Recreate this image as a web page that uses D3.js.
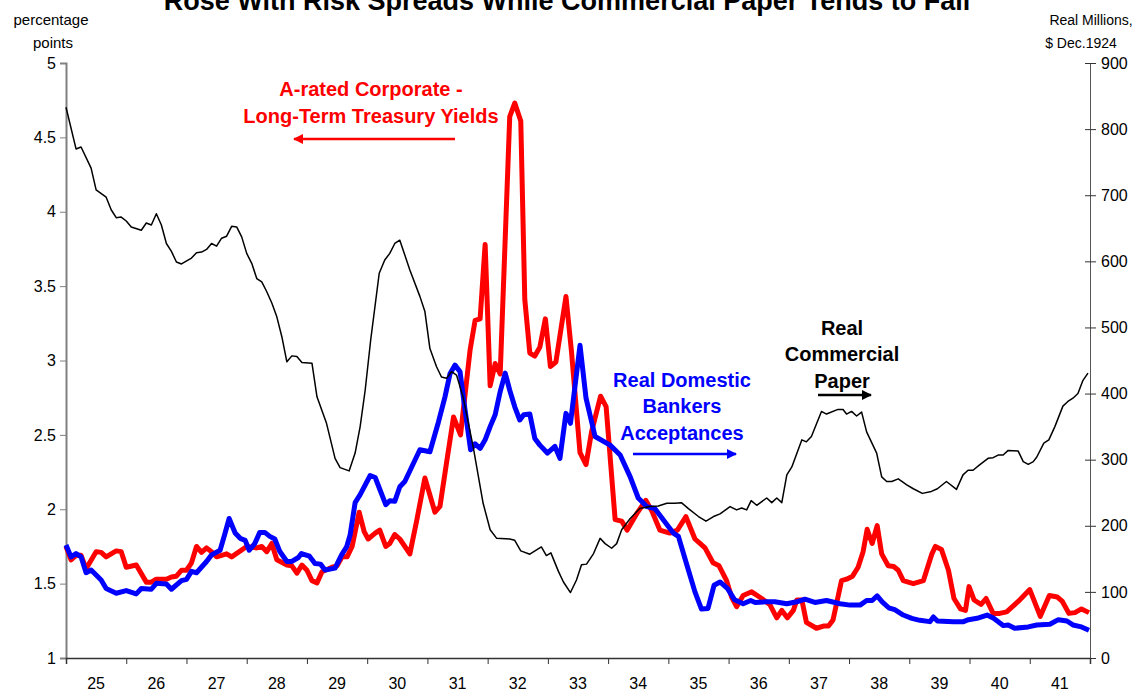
<!DOCTYPE html>
<html>
<head>
<meta charset="utf-8">
<script src="https://d3js.org/d3.v7.min.js"></script>
<title>Risk spreads and commercial paper</title>
<style>
  body { margin: 0; background: #fff; }
  svg text { font-family: "Liberation Sans", Arial, sans-serif; }
  .tick text { font-size: 16px; fill: #000; }
</style>
</head>
<body>
<svg id="chart" width="1134" height="692"></svg>
<script>
// months counted from Jan 1925
var yearLabels = ["25","26","27","28","29","30","31","32","33","34","35","36","37","38","39","40","41"];

// A-rated corporate minus long-term treasury yields (percentage points, left axis)
var spreadMonths = [0,1,2,3,4,6,7,8,10,11,12,14,16,17,18,20,21,22,23,24,25,26,27,28,29,30,32,33,36,38,39,40,41,42,44,45,46,47,48,49,50,51,53,54,55,56,57,58.4,59.4,60.2,61.6,62.5,63.7,64.5,65.5,66.5,68.5,69.9,71.5,73.5,74.5,75.8,77.2,78.6,80.5,81.5,82.5,83.5,84.5,85.5,86.5,88.4,89.4,90.6,91.4,92.4,93.4,94.4,95.5,96.5,97.6,99.6,100.7,102.4,103.6,104.7,106.5,107.6,109.4,110.7,111.8,113.7,115.5,116.7,118.3,120.3,121.8,123.5,125.3,126.3,127.3,128.9,130.1,131.6,132.6,133.6,134.9,136.6,138.6,140.2,141.6,142.6,143.7,144.9,145.6,146.6,147.5,149.5,150.9,151.9,152.8,154.5,155.5,156.7,157.8,158.8,159.6,160.6,161.6,162.5,163.8,164.9,165.8,166.8,168.8,170.8,172.5,173.2,174.4,175.8,176.9,178.2,179.2,179.9,180.9,182.3,183.3,184.7,186,187.4,189.7,192,194.1,195.9,197.5,198.5,199.8,201,202.3,203.8];
var spreadValues = [1.75,1.66,1.69,1.69,1.60,1.715,1.71,1.68,1.72,1.715,1.61,1.625,1.51,1.51,1.53,1.53,1.545,1.55,1.59,1.59,1.64,1.75,1.71,1.74,1.715,1.68,1.70,1.68,1.75,1.74,1.75,1.715,1.77,1.66,1.625,1.62,1.57,1.625,1.59,1.52,1.505,1.58,1.61,1.62,1.68,1.68,1.75,1.98,1.85,1.80,1.84,1.86,1.75,1.77,1.83,1.80,1.70,1.93,2.21,1.98,2.02,2.31,2.62,2.50,3.07,3.27,3.28,3.78,2.83,2.98,2.91,4.64,4.73,4.61,3.41,3.05,3.03,3.09,3.28,2.96,2.99,3.43,3.06,2.38,2.30,2.52,2.76,2.69,1.93,1.92,1.86,1.97,2.06,1.99,1.86,1.84,1.86,1.95,1.80,1.77,1.74,1.64,1.62,1.52,1.41,1.345,1.42,1.445,1.40,1.36,1.27,1.32,1.27,1.32,1.39,1.39,1.24,1.20,1.215,1.215,1.255,1.52,1.53,1.55,1.61,1.715,1.865,1.77,1.89,1.70,1.62,1.615,1.59,1.52,1.50,1.52,1.70,1.75,1.73,1.59,1.40,1.33,1.32,1.48,1.39,1.36,1.40,1.30,1.30,1.31,1.38,1.46,1.28,1.42,1.41,1.38,1.30,1.305,1.33,1.305];

// real domestic bankers acceptances (real millions, right axis)
var bankersMonths = [0,1,2,3,4,5,7,8,10,12,14,15,17,18,20,21,23,24,25,26,28,29,30.7,31.7,32.5,33.7,34.7,35.7,36.5,37.6,38.6,39.6,40.6,41.6,42.6,44,45,46.3,46.9,48.5,49.6,50.7,51.6,53.6,54.9,55.9,56.6,57.6,58.6,60.6,61.6,63.7,64.5,65.5,66.5,67.5,70.5,72.5,74.2,75.5,76.5,77.5,78.5,79.5,80.6,81.5,82.5,83.5,84.5,85.5,86.5,87.5,88.4,89.4,90.4,91.2,92.4,93.4,94.4,95.9,97.4,98.4,99.6,100.5,102.4,103.6,105.4,108.4,110.4,112.4,114,115.7,117.3,120,121,122,123.6,125.3,126.6,127.9,129.1,130.3,131.8,133.2,134.9,136.4,137.3,139.6,141.2,143.6,145.6,147.2,149.2,151.5,154.2,156.2,158.2,159.5,160.6,161.6,162.6,163.9,165.1,166.8,168.5,170.1,172.1,172.8,173.6,176.8,178.8,179.8,181.5,183.5,184.8,186.7,187.7,189,191.7,193.4,196,197.7,199.4,200.6,202.3,203.8];
var bankersValues = [171,153,158,153,129,133,118,105,98,102,97,105,104,113,112,104,117,119,131,129,146,156,163,189,211,189,181,178,163,173,190,190,184,180,161,146,146,152,158,154,143,142,133,136,156,168,186,235,247,276,273,232,238,237,259,267,315,312,357,395,430,443,433,375,315,324,317,330,350,368,403,431,405,380,360,368,369,332,322,310,320,302,370,355,473,393,335,322,307,274,242,229,226,199,189,184,143,100,74,75,110,115,105,88,82,87,84,85,85,82,85,89,84,87,82,80,80,87,87,94,85,76,73,65,60,57,55,62,56,55,55,58,60,65,60,49,50,45,47,50,51,58,56,50,47,42];

// real commercial paper (real millions, right axis)
var paperMonths = [0,2,3,5,6,8,9,10,11,12,13,15,16,17,18,19,20,21,22,23,25,26,27,28,29,30,31,32,33,34,35,36,37,38,39,40,41,42,43,44,45,46,47,49,50,51.9,53.6,54.6,56.4,57.6,58.6,59.6,60.7,62.4,63.5,64.5,65.5,66.5,68.5,70.5,71.5,72.5,73.8,74.8,75.8,76.8,77.8,79.1,81.1,83.1,84.5,85.8,88.4,89.4,90.6,92.4,94.7,95.7,96.6,98.1,99.1,100.5,101.7,102.7,103.7,105.1,106.4,107.4,108.7,109.7,110.7,112.4,114.3,116.3,118,119.7,121.3,122.6,124,126,127.5,129,130.3,132.3,133.6,134.6,135.6,136.5,137.6,139.6,140.6,141.6,142.6,143.6,144.6,146.6,147.5,148.5,150.5,151.5,153.8,154.8,155.5,156.5,157.5,158.5,159.5,161.5,162.5,163.5,164.5,165.8,167.5,168.8,170.6,172.4,173.6,175.4,177.4,178.7,179.7,180.7,182,183.7,184.7,185.7,186.7,187.7,189.7,190.7,191.7,192.7,193.4,194.8,195.8,197,198.6,199.6,200.6,201.6,202.6,203.6];
var paperValues = [833,770,773,741,708,697,678,666,667,661,652,647,658,655,672,655,627,615,599,596,605,613,614,618,627,623,635,638,653,652,637,612,597,574,569,554,537,516,486,448,457,456,447,446,395,355,302,288,283,310,350,405,481,582,602,612,627,632,587,547,524,468,441,425,423,433,428,395,320,234,194,181,180,178,162,157,168,155,159,131,115,99,118,141,142,158,181,173,166,173,194,211,226,229,230,234,234,235,226,214,207,214,218,229,224,227,224,238,231,242,235,242,235,277,289,330,327,335,373,369,376,376,369,373,366,372,342,310,274,267,267,271,262,256,249,252,256,267,255,277,284,284,292,302,303,307,307,314,313,297,293,297,304,325,330,350,381,388,393,400,420,431];

var leftTicks = [1,1.5,2,2.5,3,3.5,4,4.5,5];
var rightTicks = [0,100,200,300,400,500,600,700,800,900];

var svg = d3.select("#chart");

var x = d3.scaleLinear().domain([0, 204]).range([66, 1090]);
var yLeft = d3.scaleLinear().domain([1, 5]).range([658, 63]);
var yRight = d3.scaleLinear().domain([0, 900]).range([658, 63]);

// title, cut off at top like the original
svg.append("text")
  .attr("x", 567).attr("y", 10)
  .attr("text-anchor", "middle")
  .attr("font-size", 27).attr("font-weight", "bold")
  .text("Rose With Risk Spreads While Commercial Paper Tends to Fall");

// axis titles
svg.append("text").attr("x", 51).attr("y", 25).attr("text-anchor", "middle").attr("font-size", 15).text("percentage");
svg.append("text").attr("x", 53).attr("y", 48).attr("text-anchor", "middle").attr("font-size", 15).text("points");
svg.append("text").attr("x", 1091).attr("y", 25).attr("text-anchor", "middle").attr("font-size", 14).text("Real Millions,");
svg.append("text").attr("x", 1081).attr("y", 48).attr("text-anchor", "middle").attr("font-size", 14).text("$ Dec.1924");

// left axis
var leftAxis = svg.append("g")
  .attr("transform", "translate(66,0)")
  .call(d3.axisLeft(yLeft).tickValues(leftTicks).tickSize(6).tickPadding(4).tickFormat(d3.format("")));
leftAxis.select(".domain").attr("stroke", "#808080").attr("stroke-width", 2);
leftAxis.selectAll(".tick line").attr("stroke", "#808080");

// right axis, ticks crossing the line
var rightAxis = svg.append("g")
  .attr("transform", "translate(1090,0)")
  .call(d3.axisRight(yRight).tickValues(rightTicks).tickSize(6).tickPadding(5));
rightAxis.select(".domain").attr("stroke", "#555");
rightAxis.selectAll(".tick line").attr("x1", -5).attr("stroke", "#333");

// bottom axis: ticks at year boundaries, labels in the middle of each year
var yearTicks = d3.range(0, 205, 12);
var bottomAxis = svg.append("g")
  .attr("transform", "translate(0,658)")
  .call(d3.axisBottom(x).tickValues(yearTicks).tickSize(6).tickFormat(""));
bottomAxis.select(".domain").attr("stroke", "#333").attr("stroke-width", 1.5);
bottomAxis.selectAll(".tick line").attr("stroke", "#333");

svg.append("g").selectAll("text")
  .data(yearLabels)
  .join("text")
  .attr("x", function(d, i) { return x(i * 12 + 6); })
  .attr("y", 689)
  .attr("text-anchor", "middle")
  .attr("font-size", 16)
  .text(function(d) { return d; });

// lines
function pairs(ms, vs) { return ms.map(function(m, i) { return [m, vs[i]]; }); }

var lineLeft = d3.line().x(function(d) { return x(d[0]); }).y(function(d) { return yLeft(d[1]); });
var lineRight = d3.line().x(function(d) { return x(d[0]); }).y(function(d) { return yRight(d[1]); });

svg.append("path")
  .datum(pairs(spreadMonths, spreadValues))
  .attr("d", lineLeft)
  .attr("fill", "none").attr("stroke", "#ff0000").attr("stroke-width", 5)
  .attr("stroke-linejoin", "round");

svg.append("path")
  .datum(pairs(bankersMonths, bankersValues))
  .attr("d", lineRight)
  .attr("fill", "none").attr("stroke", "#0000ff").attr("stroke-width", 5)
  .attr("stroke-linejoin", "round");

svg.append("path")
  .datum(pairs(paperMonths, paperValues))
  .attr("d", lineRight)
  .attr("fill", "none").attr("stroke", "#000").attr("stroke-width", 1.5)
  .attr("stroke-linejoin", "round");

// annotations
var defs = svg.append("defs");
[["headRed", "#ff0000"], ["headBlue", "#0000ff"], ["headBlack", "#000"]].forEach(function(h) {
  defs.append("marker")
    .attr("id", h[0]).attr("viewBox", "0 0 10 10")
    .attr("refX", 9).attr("refY", 5)
    .attr("markerWidth", 4).attr("markerHeight", 4)
    .attr("orient", "auto")
    .append("path").attr("d", "M0,0 L10,5 L0,10 z").attr("fill", h[1]);
});

function label(lines, cx, y0, dy, color) {
  lines.forEach(function(t, i) {
    svg.append("text")
      .attr("x", cx).attr("y", y0 + i * dy)
      .attr("text-anchor", "middle")
      .attr("font-size", 20).attr("font-weight", "bold")
      .attr("fill", color)
      .text(t);
  });
}

label(["A-rated Corporate -", "Long-Term Treasury Yields"], 371, 96, 27, "#ff0000");
svg.append("line").attr("x1", 455).attr("y1", 139).attr("x2", 294).attr("y2", 139)
  .attr("stroke", "#ff0000").attr("stroke-width", 2.5).attr("marker-end", "url(#headRed)");

label(["Real Domestic", "Bankers", "Acceptances"], 682, 387, 26.3, "#0000ff");
svg.append("line").attr("x1", 633).attr("y1", 454).attr("x2", 736).attr("y2", 454)
  .attr("stroke", "#0000ff").attr("stroke-width", 2.5).attr("marker-end", "url(#headBlue)");

label(["Real", "Commercial", "Paper"], 842, 335, 26.3, "#000");
svg.append("line").attr("x1", 818).attr("y1", 395).attr("x2", 871).attr("y2", 395)
  .attr("stroke", "#000").attr("stroke-width", 2.5).attr("marker-end", "url(#headBlack)");
</script>
</body>
</html>
